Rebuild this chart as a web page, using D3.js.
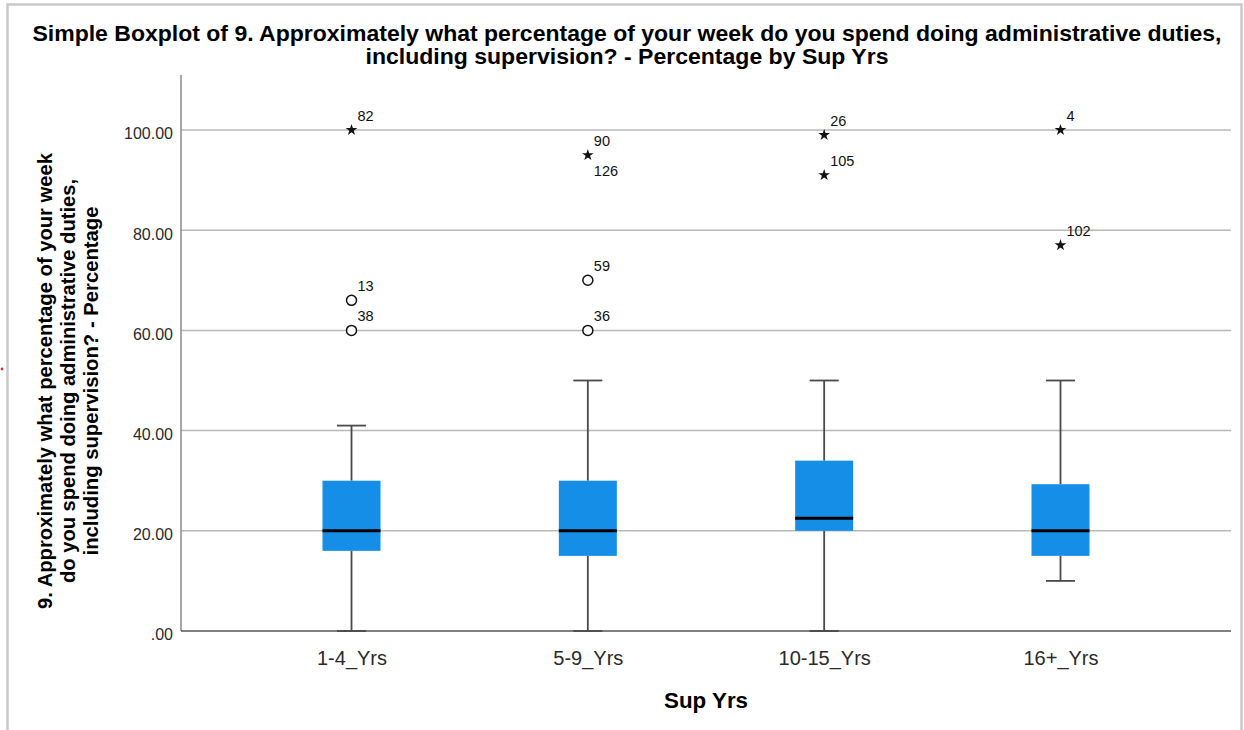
<!DOCTYPE html>
<html>
<head>
<meta charset="utf-8">
<script src="https://cdn.jsdelivr.net/npm/d3@7"></script>
<style>
  html, body { margin: 0; padding: 0; background: #ffffff; }
  svg { display: block; }
  text { font-family: "Liberation Sans", Arial, sans-serif; }
</style>
</head>
<body>
<svg id="chart" width="1244" height="730"></svg>
<script>
// Groups on the x axis
const categories = ["1-4_Yrs", "5-9_Yrs", "10-15_Yrs", "16+_Yrs"];

// Box statistics per group
const whiskerLow  = [0, 0, 0, 10];
const quartile1   = [16, 15, 20, 15];
const medians     = [20, 20, 22.5, 20];
const quartile3   = [30, 30, 34, 29.3];
const whiskerHigh = [41, 50, 50, 50];

// Outlying cases: group, value, case number, kind ("o" = outlier, "*" = extreme)
const outlierGroup = ["1-4_Yrs", "1-4_Yrs", "1-4_Yrs", "5-9_Yrs", "5-9_Yrs", "5-9_Yrs", "5-9_Yrs", "10-15_Yrs", "10-15_Yrs", "16+_Yrs", "16+_Yrs"];
const outlierValue = [100, 66, 60, 95, 95, 70, 60, 99, 91, 100, 77];
const outlierCase  = ["82", "13", "38", "90", "126", "59", "36", "26", "105", "4", "102"];
const outlierKind  = ["*", "o", "o", "*", "*", "o", "o", "*", "*", "*", "*"];

// Axis ticks
const yTicks = [0, 20, 40, 60, 80, 100];
const yTickLabels = [".00", "20.00", "40.00", "60.00", "80.00", "100.00"];

const titleLines = [
  "Simple Boxplot of 9. Approximately what percentage of your week do you spend doing administrative duties,",
  "including supervision? - Percentage by Sup Yrs"
];
const yTitleLines = [
  "9. Approximately what percentage of your week",
  "do you spend doing administrative duties,",
  "including supervision? - Percentage"
];
const xTitle = "Sup Yrs";

const svg = d3.select("#chart");
const plot = { left: 181, right: 1231, top: 75, bottom: 631 };

const x = d3.scalePoint().domain(categories).range([plot.left, plot.right]).padding(0.7215);
const y = d3.scaleLinear().domain([0, 100]).range([plot.bottom, 130]);

// Outer frame
svg.append("rect")
  .attr("x", 7.5).attr("y", 4.5).attr("width", 1234).attr("height", 760)
  .attr("fill", "none").attr("stroke", "#c9c9c9").attr("stroke-width", 2.5);
svg.append("circle").attr("cx", 2).attr("cy", 369).attr("r", 1.4).attr("fill", "#e03030");

// Title (condensed bold)
svg.append("g").selectAll("text").data(titleLines).join("text")
  .attr("x", 627).attr("y", (d, i) => 41 + i * 23)
  .attr("text-anchor", "middle")
  .attr("font-size", 22).attr("font-weight", "bold").attr("fill", "#000")
  .attr("textLength", (d, i) => i === 0 ? 1189 : 523)
  .attr("lengthAdjust", "spacingAndGlyphs")
  .text(d => d);

// Gridlines
svg.append("g").selectAll("line").data(yTicks.filter(v => v > 0)).join("line")
  .attr("x1", plot.left).attr("x2", plot.right)
  .attr("y1", d => y(d)).attr("y2", d => y(d))
  .attr("stroke", "#b9b9b9").attr("stroke-width", 1.5);

// Y axis
const yAxis = d3.axisLeft(y).tickValues(yTicks)
  .tickFormat((d, i) => yTickLabels[i]).tickSize(0).tickPadding(8);
const gy = svg.append("g").attr("transform", `translate(${plot.left},0)`).call(yAxis);
gy.select(".domain").remove();
gy.selectAll("text").attr("font-size", 16).attr("fill", "#2a2a2a").attr("dy", "0.55em")
  .style("font-family", "'Liberation Sans', Arial, sans-serif");
svg.append("line")
  .attr("x1", plot.left).attr("x2", plot.left).attr("y1", plot.top).attr("y2", plot.bottom)
  .attr("stroke", "#8a8a8a").attr("stroke-width", 1.5);

// X axis
const xAxis = d3.axisBottom(x).tickSize(0).tickPadding(20);
const gx = svg.append("g").attr("transform", `translate(0,${plot.bottom})`).call(xAxis);
gx.select(".domain").remove();
gx.selectAll("text").attr("font-size", 20).attr("fill", "#2a2a2a")
  .style("font-family", "'Liberation Sans', Arial, sans-serif");
svg.append("line")
  .attr("x1", plot.left).attr("x2", plot.right).attr("y1", plot.bottom).attr("y2", plot.bottom)
  .attr("stroke", "#555").attr("stroke-width", 1.6);

// Axis titles
svg.append("text")
  .attr("x", (plot.left + plot.right) / 2).attr("y", 708)
  .attr("text-anchor", "middle").attr("font-size", 22).attr("font-weight", "bold")
  .attr("textLength", 84).attr("lengthAdjust", "spacingAndGlyphs")
  .text(xTitle);

const yTitleLengths = [456, 404, 349];
svg.append("g").selectAll("text").data(yTitleLines).join("text")
  .attr("transform", (d, i) => `translate(${52 + i * 23},381) rotate(-90)`)
  .attr("text-anchor", "middle").attr("font-size", 21).attr("font-weight", "bold")
  .attr("textLength", (d, i) => yTitleLengths[i])
  .attr("lengthAdjust", "spacingAndGlyphs")
  .text(d => d);

// Boxes
const boxW = 58, capW = 29;
const boxes = categories.map((c, i) => ({
  c, lo: whiskerLow[i], q1: quartile1[i], med: medians[i], q3: quartile3[i], hi: whiskerHigh[i]
}));
const gb = svg.append("g").selectAll("g").data(boxes).join("g");

gb.append("line").attr("class", "whisker")
  .attr("x1", d => x(d.c)).attr("x2", d => x(d.c))
  .attr("y1", d => y(d.hi)).attr("y2", d => y(d.q3))
  .attr("stroke", "#4a4a4a").attr("stroke-width", 1.8);
gb.append("line").attr("class", "whisker")
  .attr("x1", d => x(d.c)).attr("x2", d => x(d.c))
  .attr("y1", d => y(d.q1)).attr("y2", d => y(d.lo))
  .attr("stroke", "#4a4a4a").attr("stroke-width", 1.8);
gb.append("line")
  .attr("x1", d => x(d.c) - capW / 2).attr("x2", d => x(d.c) + capW / 2)
  .attr("y1", d => y(d.hi)).attr("y2", d => y(d.hi))
  .attr("stroke", "#4a4a4a").attr("stroke-width", 1.8);
gb.append("line")
  .attr("x1", d => x(d.c) - capW / 2).attr("x2", d => x(d.c) + capW / 2)
  .attr("y1", d => y(d.lo)).attr("y2", d => y(d.lo))
  .attr("stroke", "#4a4a4a").attr("stroke-width", 1.8);
gb.append("rect")
  .attr("x", d => x(d.c) - boxW / 2).attr("width", boxW)
  .attr("y", d => y(d.q3)).attr("height", d => y(d.q1) - y(d.q3))
  .attr("fill", "#148ee6");
gb.append("line")
  .attr("x1", d => x(d.c) - boxW / 2).attr("x2", d => x(d.c) + boxW / 2)
  .attr("y1", d => y(d.med)).attr("y2", d => y(d.med))
  .attr("stroke", "#000").attr("stroke-width", 3);

// Outliers and extremes with case labels
const outliers = outlierValue.map((v, i) => ({
  g: outlierGroup[i], v, id: outlierCase[i], kind: outlierKind[i]
}));
// when two cases share a value, the second label goes underneath
const seen = new Map();
outliers.forEach(o => {
  const key = o.g + "|" + o.v;
  o.stack = seen.get(key) || 0;
  seen.set(key, o.stack + 1);
});

const go = svg.append("g");
const starPath = d3.symbol().type(d3.symbolStar).size(42)();
go.selectAll("path").data(outliers.filter(o => o.kind === "*" && o.stack === 0)).join("path")
  .attr("d", starPath)
  .attr("transform", d => `translate(${x(d.g)},${y(d.v)})`)
  .attr("fill", "#111");
go.selectAll("circle").data(outliers.filter(o => o.kind === "o")).join("circle")
  .attr("cx", d => x(d.g)).attr("cy", d => y(d.v)).attr("r", 5)
  .attr("fill", "#fff").attr("stroke", "#111").attr("stroke-width", 1.5);
go.selectAll("text").data(outliers).join("text")
  .attr("x", d => x(d.g) + 6)
  .attr("y", d => d.stack === 0 ? y(d.v) - 9 : y(d.v) + 21)
  .attr("font-size", 14.5).attr("fill", "#111")
  .text(d => d.id);
</script>
</body>
</html>
